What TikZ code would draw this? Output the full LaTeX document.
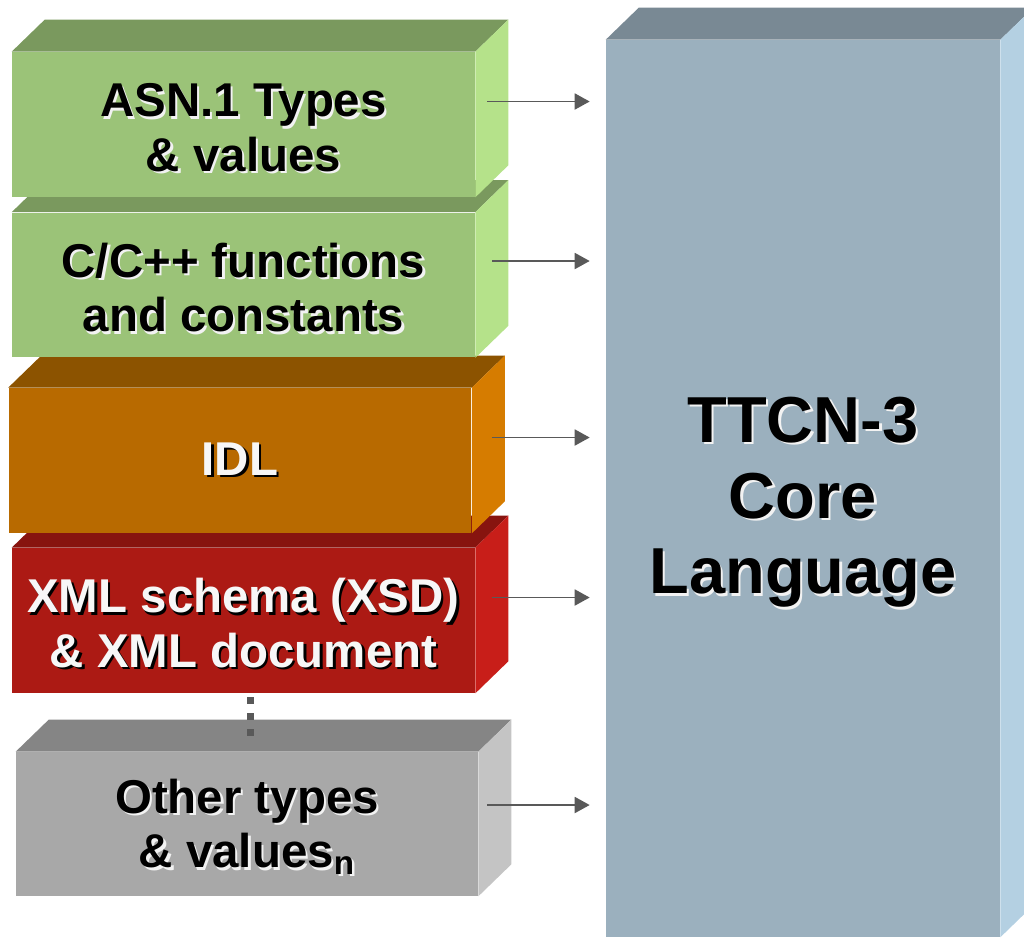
\documentclass[tikz,border=0pt]{standalone}
\usepackage{fontspec}
\setmainfont{Liberation Sans}
\usetikzlibrary{arrows.meta}

\definecolor{grnfront}{HTML}{9BC378}
\definecolor{grntop}{HTML}{7A995E}
\definecolor{grnside}{HTML}{B5E28A}
\definecolor{orgfront}{HTML}{B86A00}
\definecolor{orgtop}{HTML}{8C5300}
\definecolor{orgside}{HTML}{D67C00}
\definecolor{redfront}{HTML}{AC1A14}
\definecolor{redtop}{HTML}{87140F}
\definecolor{redside}{HTML}{C81E19}
\definecolor{grefront}{HTML}{A8A8A8}
\definecolor{gretop}{HTML}{858585}
\definecolor{greside}{HTML}{C4C4C4}
\definecolor{blufront}{HTML}{9BB0BE}
\definecolor{blutop}{HTML}{798994}
\definecolor{bluside}{HTML}{B4D0E2}
\definecolor{argray}{HTML}{595959}
\definecolor{glow}{HTML}{F2F2F2}
\definecolor{txtwhite}{HTML}{F7F7F7}

% text with a small offset shadow
\newcommand{\onlight}[1]{\leavevmode\rlap{\kern1.3pt\raisebox{-1.3pt}{\color{glow}#1}}#1}
\newcommand{\ondark}[1]{\leavevmode\rlap{\kern1.3pt\raisebox{-1.3pt}{\color{black}#1}}#1}
% top and right faces of a block
\newcommand{\sides}[3]{%
  \fill[#2] (#1.north west) -- ++(33,-32) -- ([shift={(33,-32)}]#1.north east) -- (#1.north east) -- cycle;
  \fill[#3] (#1.north east) -- ++(33,-32) -- ([shift={(33,-32)}]#1.south east) -- (#1.south east) -- cycle;}

\tikzset{
  face/.style     = {rectangle, inner sep=0pt, align=center,
                     minimum width=9.26cm, minimum height=2.9cm,
                     font=\bfseries\fontsize{27pt}{31pt}\selectfont},
  twolines/.style = {text height=55pt},
  greenbox/.style = {face, twolines, fill=grnfront},
  orangebox/.style= {face, fill=orgfront, text=txtwhite},
  redbox/.style   = {face, twolines, fill=redfront, text=txtwhite},
  greybox/.style  = {face, twolines, fill=grefront, minimum width=9.24cm, minimum height=2.88cm},
  corebox/.style  = {face, fill=blufront, minimum width=7.88cm, minimum height=17.94cm,
                     text height=129pt, font=\bfseries\fontsize{37pt}{43pt}\selectfont},
  ar/.style       = {-{Triangle[length=0.3cm, width=0.32cm]}, draw=argray,
                     line width=1.1pt, shorten >=0.32cm},
  dotsline/.style = {draw=argray, line width=0.14cm,
                     dash pattern=on 0.14cm off 0.18cm, dash phase=0.24cm}
}

\begin{document}
\begin{tikzpicture}[x=0.02cm, y=-0.02cm]
  \useasboundingbox (0,0) rectangle (1024,938);

  \node[corebox] (core) at (803,488.5) {\onlight{TTCN-3}\\\onlight{Core}\\\onlight{Language}};
  \sides{core}{blutop}{bluside}

  \node[greybox] (other) at (247,824) {\onlight{Other types}\\\onlight{\& values\textsubscript{n}}};
  \sides{other}{gretop}{greside}

  \node[redbox] (xml) at (243.5,620.5) {\ondark{XML schema (XSD)}\\\ondark{\& XML document}};
  \sides{xml}{redtop}{redside}
  \coordinate (dotend) at (250,737);
  \draw[dotsline] (xml.south -| dotend) -- (dotend);

  \node[orangebox] (idl) at (240,460.5) {\ondark{IDL}};
  \sides{idl}{orgtop}{orgside}

  \node[greenbox] (cpp) at (243.5,285) {\onlight{C/C++ functions}\\\onlight{and constants}};
  \sides{cpp}{grntop}{grnside}

  \node[greenbox] (asn) at (243.5,124.5) {\onlight{ASN.1 Types}\\\onlight{\& values}};
  \sides{asn}{grntop}{grnside}

  % imports into the core language
  \coordinate (asnout) at ([shift={(12,-23)}]asn.east);
  \coordinate (cppout) at ([shift={(17,-24)}]cpp.east);
  \coordinate (idlout) at ([shift={(20,-23)}]idl.east);
  \coordinate (xmlout) at ([shift={(17,-23)}]xml.east);
  \coordinate (otherout) at ([shift={(9,-19)}]other.east);
  \draw[ar] (asnout) -- (asnout -| core.west);
  \draw[ar] (cppout) -- (cppout -| core.west);
  \draw[ar] (idlout) -- (idlout -| core.west);
  \draw[ar] (xmlout) -- (xmlout -| core.west);
  \draw[ar] (otherout) -- (otherout -| core.west);
\end{tikzpicture}
\end{document}
